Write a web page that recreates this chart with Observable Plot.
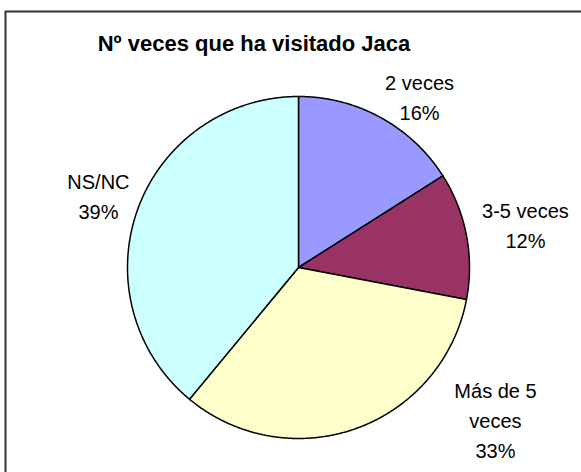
<!DOCTYPE html>
<html><head><meta charset="utf-8">
<script src="https://cdn.jsdelivr.net/npm/d3@7"></script>
<script src="https://cdn.jsdelivr.net/npm/@observablehq/plot@0.6"></script>
<style>
body{margin:0;background:#fff;}
svg{font-family:"Liberation Sans",Arial,sans-serif;}
</style>
</head><body><div id="chart"></div>
<script>
const title = "Nº veces que ha visitado Jaca";
const categories = ["2 veces", "3-5 veces", "Más de 5 veces", "NS/NC"];
const values = [16, 12, 33, 39];
const labelTexts = ["2 veces", "3-5 veces", "Más de 5\nveces", "NS/NC"];
const colors = ["#9999FF", "#993366", "#FFFFCC", "#CCFFFF"];
// label block centres, in units of the pie radius (layout only)
const labelX = [0.708, 1.327, 1.152, -1.170];
const labelY = [1.006, 0.257, -0.883, 0.427];

const W = 581, H = 472, cx = 298, cy = 267, R = 171;

const data = categories.map((c, i) => ({cat: c, value: values[i]}));
const arcs = d3.pie().sort(null).value(d => d.value)(data);

// polygon outline of each slice (centre + arc samples)
const slicePts = [];
arcs.forEach(a => {
  slicePts.push({cat: a.data.cat, x: 0, y: 0});
  const n = Math.max(2, Math.ceil((a.endAngle - a.startAngle) / 0.005));
  for (let k = 0; k <= n; k++) {
    const t = a.startAngle + (a.endAngle - a.startAngle) * k / n;
    slicePts.push({cat: a.data.cat, x: Math.sin(t), y: Math.cos(t)});
  }
});

const labels = arcs.map((a, i) => ({
  text: labelTexts[i] + "\n" + Math.round(100 * a.value / d3.sum(values)) + "%",
  x: labelX[i], y: labelY[i]
}));

const chart = Plot.plot({
  width: W, height: H,
  margin: 0,
  x: {domain: [-cx / R, (W - cx) / R], axis: null},
  y: {domain: [-(H - cy) / R, cy / R], axis: null},
  color: {domain: categories, range: colors},
  marks: [
    Plot.frame({stroke: "#333", strokeWidth: 2, insetLeft: 5, insetTop: 11, insetRight: -10, insetBottom: -10}),
    Plot.line(slicePts, {x: "x", y: "y", z: "cat", fill: "cat", stroke: "black", strokeWidth: 1.5, curve: "linear-closed", strokeLinejoin: "round"}),
    Plot.text(labels, {x: "x", y: "y", text: "text", fontSize: 20, lineHeight: 1.5, fill: "black", lineAnchor: "middle"}),
    Plot.text([title], {text: d => d, frameAnchor: "top", dx: -37, dy: 43, lineAnchor: "middle", fontSize: 22, fontWeight: "bold", fill: "black"})
  ]
});
document.getElementById("chart").appendChild(chart);
</script>
</body></html>
